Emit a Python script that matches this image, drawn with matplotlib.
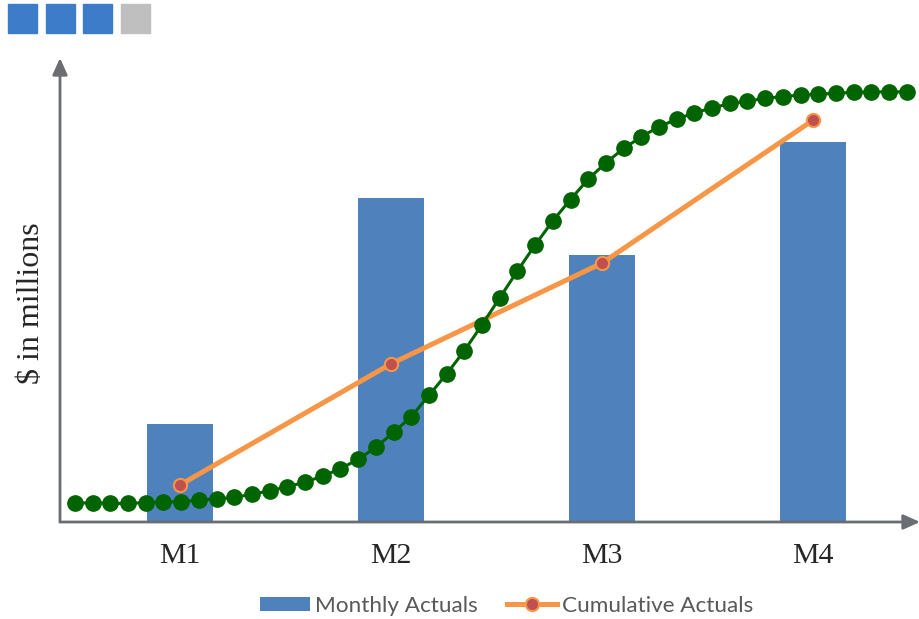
import matplotlib.pyplot as plt
from matplotlib.patches import Rectangle

# Monthly and cumulative actuals ($ in millions)
months = ["M1", "M2", "M3", "M4"]
monthlyActuals = [21.1, 69.8, 57.5, 81.9]
cumulativeActuals = [8.0, 34.1, 55.8, 86.6]

# Planned spend S-curve, one point per step
plannedCurve = [4.0, 4.2, 4.0, 4.0, 4.2, 4.3, 4.4, 4.7, 5.0, 5.3,
                6.0, 6.7, 7.6, 8.6, 9.9, 11.5, 13.5, 16.1, 19.3, 22.7,
                27.3, 31.9, 36.9, 42.5, 48.3, 54.1, 59.7, 64.9, 69.5, 73.9,
                77.4, 80.5, 83.0, 85.2, 86.8, 88.2, 89.2, 90.2, 90.7, 91.3,
                91.7, 92.0, 92.2, 92.4, 92.6, 92.7, 92.7, 92.7]

barColor = "#4f81bd"
lineColor = "#f79646"
markerColor = "#c0504d"
curveColor = "#006400"
axisColor = "#6a6d71"

fig = plt.figure(figsize=(9.2, 6.19), dpi=100)
rect = [60 / 920, 97 / 619, 860 / 920, 464 / 619]
ax = fig.add_axes(rect)

x = range(len(months))
bars = ax.bar(x, monthlyActuals, width=0.313, color=barColor,
              label="Monthly Actuals", zorder=1)
line, = ax.plot(x, cumulativeActuals, color=lineColor, linewidth=3.6,
                marker="o", markersize=9.5, markerfacecolor=markerColor,
                markeredgecolor=lineColor, markeredgewidth=1.5,
                label="Cumulative Actuals", zorder=2)

ax.set_xlim(-0.569, 3.507)
ax.set_ylim(0, 100)
for s in ax.spines.values():
    s.set_visible(False)
ax.set_yticks([])
ax.set_xticks(list(x))
ax.set_xticklabels(months, family="Liberation Serif", fontsize=21.5,
                   color="#262626")
ax.tick_params(axis="x", length=0, pad=15)
ax.set_ylabel("$ in millions", family="Liberation Serif", fontsize=23,
              color="#262626")
ax.yaxis.set_label_coords(-0.016, 0.472)

# axis lines with arrow heads
arrowStyle = dict(arrowstyle="-|>,head_length=1.0,head_width=0.45",
                  color=axisColor, linewidth=2, shrinkA=0, shrinkB=0)
ax.annotate("", xy=(0, 1), xytext=(0, 0), xycoords="axes fraction",
            arrowprops=arrowStyle, annotation_clip=False)
ax.annotate("", xy=(1, 0), xytext=(0, 0), xycoords="axes fraction",
            arrowprops=arrowStyle, annotation_clip=False)

# S-curve on its own overlay axes
ax2 = fig.add_axes(rect, frameon=False)
ax2.plot(range(len(plannedCurve)), plannedCurve, color=curveColor,
         linewidth=2.2, marker="o", markersize=11, zorder=3)
ax2.set_xlim(-0.848, 47.75)
ax2.set_ylim(0, 100)
ax2.axis("off")

leg = ax2.legend([bars, line], ["Monthly Actuals", "Cumulative Actuals"],
                 loc="center", bbox_to_anchor=(0.519, -0.181), ncol=2,
                 frameon=False, prop={"family": "Lato", "size": 16.2},
                 handlelength=2.25, handleheight=0.62, handletextpad=0.2,
                 columnspacing=1.3)
for t in leg.get_texts():
    t.set_color("#595959")

# status squares in the top corner
squareColors = ["#3d7cc9", "#3d7cc9", "#3d7cc9", "#bfbfbf"]
for i, c in enumerate(squareColors):
    left = (8 + i * 37.7) / 920
    fig.add_artist(Rectangle((left, 1 - 33 / 619), 29 / 920, 29 / 619,
                             transform=fig.transFigure, color=c))

fig.savefig("out.png", dpi=100)
